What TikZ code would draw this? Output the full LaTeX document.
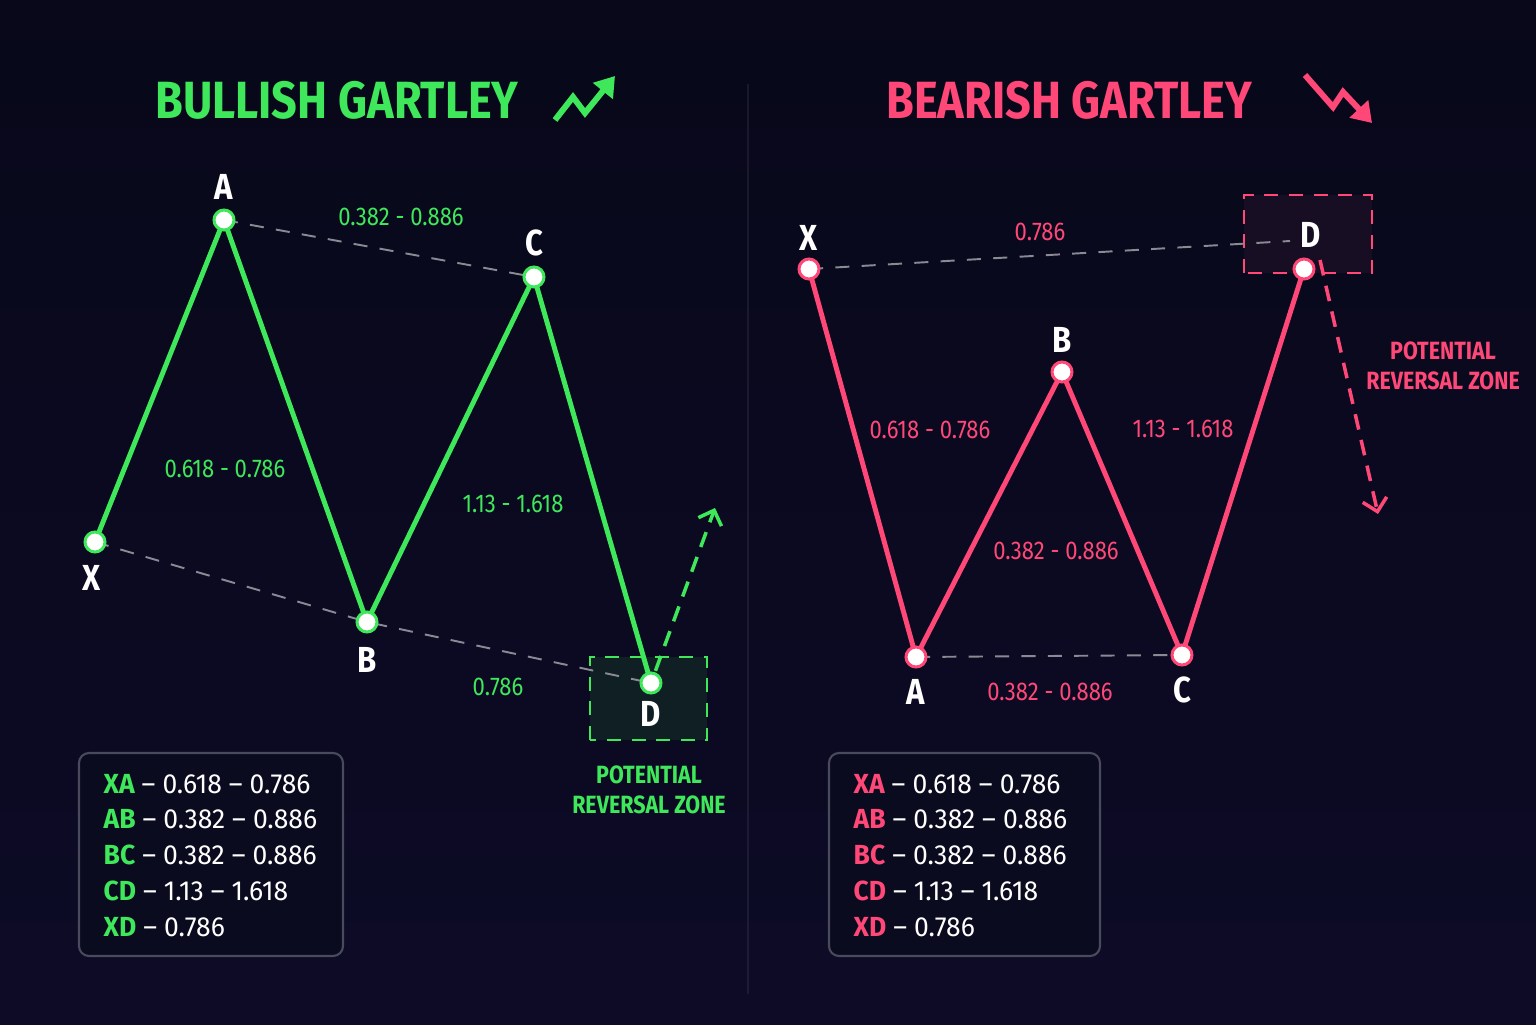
\documentclass[tikz,border=0pt]{standalone}
\usepackage{fontspec}
\setmainfont{Fira Sans}
\newfontfamily\condfont[FakeStretch=0.86]{Fira Sans}
\newfontfamily\legfont[FakeStretch=0.96]{Fira Sans}
\usepackage{tikz}
\usepackage{tkz-euclide}
\usetikzlibrary{arrows.meta, positioning, calc}

\definecolor{bgtop}{HTML}{08081A}
\definecolor{bgbot}{HTML}{0D0B26}
\definecolor{bull}{RGB}{62,232,90}
\definecolor{bear}{RGB}{255,72,120}
\definecolor{guidegray}{HTML}{8A8A94}
\definecolor{boxline}{HTML}{4A4A5E}
\definecolor{boxfill}{HTML}{0B0B1F}

\tikzset{
  bullpt/.style={circle, draw=bull, fill=white, line width=0.85pt, minimum size=0.2cm, inner sep=0pt},
  bearpt/.style={circle, draw=bear, fill=white, line width=0.85pt, minimum size=0.2cm, inner sep=0pt},
  lettr/.style={text=white, inner sep=0pt, font=\condfont\bfseries\fontsize{10.3pt}{12pt}\selectfont},
  guide/.style={guidegray, line width=0.55pt, dash pattern=on 4pt off 3.5pt},
  bullline/.style={bull, line width=1.4pt, line join=round},
  bearline/.style={bear, line width=1.4pt, line join=round},
  bullratio/.style={text=bull, inner sep=0pt, font=\condfont\fontsize{7.3pt}{9pt}\selectfont},
  bearratio/.style={text=bear, inner sep=0pt, font=\condfont\fontsize{7.3pt}{9pt}\selectfont},
  zonetext/.style={inner sep=0pt, align=center, font=\condfont\bfseries\fontsize{7.1pt}{8.4pt}\selectfont},
  title/.style={inner sep=0pt, font=\condfont\bfseries\fontsize{14.9pt}{17pt}\selectfont},
  legendbox/.style={draw=boxline, fill=boxfill, line width=0.6pt, rounded corners=0.1cm},
  legtext/.style={text=white, inner sep=0pt, font=\legfont\fontsize{7.85pt}{10pt}\selectfont},
  zonearrow/.style={line width=1pt, dash pattern=on 4.5pt off 3pt, -{Straight Barb[length=3.5pt, width=7pt]}},
  icon/.style={line width=1.7pt, line join=miter, -{Triangle[length=5.5pt, width=7pt]}}
}

\begin{document}
\begin{tikzpicture}[x=1cm, y=1cm]
\shade[top color=bgtop, bottom color=bgbot] (0,0) rectangle (15.36,10.24);
\useasboundingbox (0,0) rectangle (15.36,10.24);
\draw[color=white, opacity=0.07, line width=0.5pt] (7.48,0.3) -- (7.48,9.4);

% points of both patterns
\tkzDefPoints{0.95/4.82/bX, 2.24/8.04/bA, 3.67/4.02/bB, 5.34/7.47/bC, 6.51/3.41/bD}
\tkzDefPoints{8.09/7.55/rX, 9.16/3.67/rA, 10.62/6.52/rB, 11.82/3.69/rC, 13.04/7.55/rD}
\coordinate (rDg) at (12.90,7.83);
\coordinate (bOut) at (7.15,5.16);
\coordinate (rOutS) at (13.20,7.64);
\coordinate (rOut) at (13.78,5.10);

% reversal zones
\draw[bull, fill=bull!9!boxfill, line width=0.8pt, dash pattern=on 4pt off 3pt] (5.90,2.84) rectangle (7.07,3.67);
\draw[bear, fill=bear!5!boxfill, line width=0.8pt, dash pattern=on 4pt off 3pt] (12.44,7.51) rectangle (13.72,8.29);

% guides
\draw[guide] (bA) -- (bC);
\draw[guide] (bX) -- (bB) -- (bD);
\draw[guide] (rX) -- (rDg);
\draw[guide] (rA) -- (rC);

% pattern legs
\draw[bullline] (bX) -- (bA) -- (bB) -- (bC) -- (bD);
\draw[bearline] (rX) -- (rA) -- (rB) -- (rC) -- (rD);

\draw[zonearrow, bull, shorten <=0.13cm] (bD) -- (bOut);
\draw[zonearrow, bear] (rOutS) -- (rOut);

\foreach \p in {bX,bA,bB,bC,bD}
  \node[bullpt] (n\p) at (\p) {};
\foreach \p in {rX,rA,rB,rC,rD}
  \node[bearpt] (n\p) at (\p) {};

% letters
\node[lettr, above=0.2cm of bA] (lbA) {A};
\node[lettr, above=0.2cm of bC] (lbC) {C};
\node[lettr, below=0.23cm of bX, xshift=-0.03cm] (lbX) {X};
\node[lettr, below=0.25cm of bB] (lbB) {B};
\node[lettr, below=0.18cm of bD] (lbD) {D};
\node[lettr, above=0.18cm of rX] (lrX) {X};
\node[lettr, above=0.19cm of rB] (lrB) {B};
\node[lettr, below=0.22cm of rA] (lrA) {A};
\node[lettr, below=0.21cm of rC] (lrC) {C};
\node[lettr, above=0.21cm of rD, xshift=0.07cm] (lrD) {D};

% ratios
\node[bullratio] (bAC) at (4.01,8.07) {0.382 - 0.886};
\node[bullratio] (bXA) at (2.25,5.55) {0.618 - 0.786};
\node[bullratio] (bCD) at (5.13,5.20) {1.13 - 1.618};
\node[bullratio] (bXD) at (4.98,3.37) {0.786};
\node[bearratio] (rXD) at (10.40,7.92) {0.786};
\node[bearratio] (rXA) at (9.30,5.94) {0.618 - 0.786};
\node[bearratio] (rCD) at (11.83,5.95) {1.13 - 1.618};
\node[bearratio] (rAB) at (10.56,4.73) {0.382 - 0.886};
\node[bearratio] (rBC) at (10.50,3.32) {0.382 - 0.886};

\node[zonetext, text=bull] (bZone) at (6.49,2.34) {POTENTIAL\\REVERSAL ZONE};
\node[zonetext, text=bear] (rZone) at (14.43,6.58) {POTENTIAL\\REVERSAL ZONE};

% titles
\node[title, text=bull] (bTitle) at (3.37,9.24) {BULLISH GARTLEY};
\node[title, text=bear] (rTitle) at (10.69,9.24) {BEARISH GARTLEY};
\draw[icon, bull] (5.55,9.04) -- (5.73,9.27) -- (5.85,9.11) -- (6.15,9.48);
\draw[icon, bear] (13.05,9.49) -- (13.33,9.17) -- (13.43,9.32) -- (13.72,9.01);

% legends
\draw[legendbox] (0.79,0.68) rectangle (3.43,2.71);
\draw[legendbox] (8.29,0.68) rectangle (11.00,2.71);
\foreach \k/\v [count=\i from 0] in {XA/0.618 – 0.786, AB/0.382 – 0.886, BC/0.382 – 0.886, CD/1.13 – 1.618, XD/0.786}{
  \node[legtext, anchor=base west] (bLeg\i) at (1.03,2.31-0.3575*\i) {\textcolor{bull}{\bfseries\k} – \v};
  \node[legtext, anchor=base west] (rLeg\i) at (8.53,2.31-0.3575*\i) {\textcolor{bear}{\bfseries\k} – \v};
}
\end{tikzpicture}
\end{document}
